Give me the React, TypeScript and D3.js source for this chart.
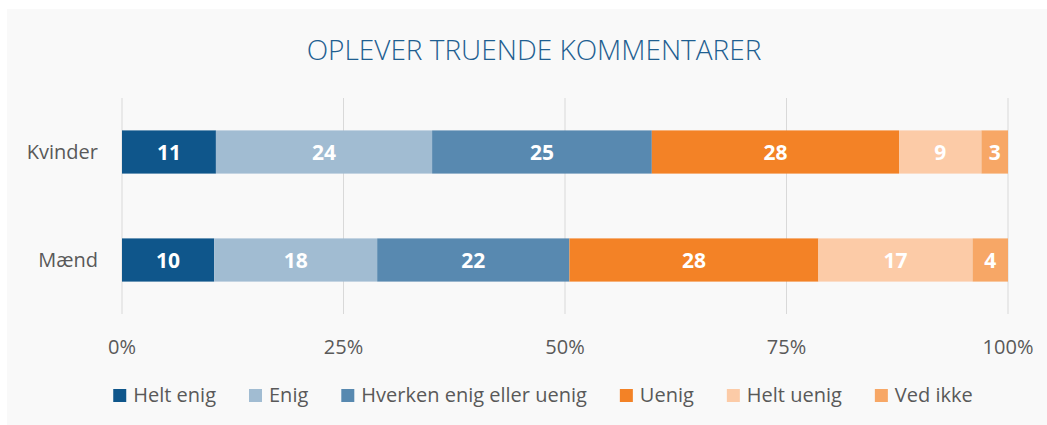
import React, { useEffect, useRef } from 'react';
import * as d3 from 'd3';

// data (shares in %, labels are the rounded figures)
const categories = ['Kvinder', 'Mænd'];
const seriesNames = ['Helt enig', 'Enig', 'Hverken enig eller uenig', 'Uenig', 'Helt uenig', 'Ved ikke'];
const kvinder = [10.6, 24.4, 24.8, 27.9, 9.3, 3.0];
const maend = [10.4, 18.4, 21.7, 28.1, 17.4, 4.0];
const colors = ['#0f568b', '#a1bcd2', '#5889b0', '#f38226', '#fccba7', '#f7a766'];
const ticks = [0, 25, 50, 75, 100];

const W = 1047;
const H = 425;

const App: React.FC = () => {
  const ref = useRef<SVGSVGElement | null>(null);

  useEffect(() => {
    if (!ref.current) return;
    const svg = d3.select(ref.current);
    svg.selectAll('*').remove();

    const margin = { top: 98, right: 39, bottom: 111, left: 122 };
    const font = "'Open Sans', sans-serif";

    // background panel
    svg.append('rect')
      .attr('x', 7).attr('y', 9)
      .attr('width', W - 7).attr('height', H - 9)
      .attr('fill', '#f9f9f9');

    // title
    svg.append('text')
      .attr('x', 534).attr('y', 60)
      .attr('text-anchor', 'middle')
      .attr('font-family', font)
      .attr('font-weight', 300)
      .attr('font-size', 28)
      .attr('fill', '#1f5f91')
      .text('OPLEVER TRUENDE KOMMENTARER');

    const x = d3.scaleLinear().domain([0, 100]).range([margin.left, W - margin.right]);
    const y = d3.scaleBand().domain(categories).range([margin.top, H - margin.bottom]).paddingInner(0.6).paddingOuter(0.3);

    // gridlines
    svg.append('g')
      .selectAll('line')
      .data(ticks)
      .enter()
      .append('line')
      .attr('x1', (d) => x(d)).attr('x2', (d) => x(d))
      .attr('y1', margin.top).attr('y2', H - margin.bottom)
      .attr('stroke', '#d9d9d9')
      .attr('stroke-width', 1);

    // x tick labels
    svg.append('g')
      .selectAll('text')
      .data(ticks)
      .enter()
      .append('text')
      .attr('x', (d) => x(d))
      .attr('y', 354)
      .attr('text-anchor', 'middle')
      .attr('font-family', font)
      .attr('font-size', 20)
      .attr('fill', '#595959')
      .text((d) => `${d}%`);

    // category labels
    svg.append('g')
      .selectAll('text')
      .data(categories)
      .enter()
      .append('text')
      .attr('x', margin.left - 24)
      .attr('y', (d) => y(d)! + y.bandwidth() / 2)
      .attr('dy', '0.35em')
      .attr('text-anchor', 'end')
      .attr('font-family', font)
      .attr('font-size', 20)
      .attr('fill', '#595959')
      .text((d) => d);

    // stacked bars (normalised to 100%)
    const rows = [kvinder, maend].map((vals, i) => {
      const total = d3.sum(vals);
      const row: any = { cat: categories[i] };
      seriesNames.forEach((s, j) => { row[s] = (vals[j] / total) * 100; row[s + '_v'] = vals[j]; });
      return row;
    });
    const stack = d3.stack<any>().keys(seriesNames)(rows);

    const layers = svg.append('g')
      .selectAll('g')
      .data(stack)
      .enter()
      .append('g')
      .attr('fill', (_, i) => colors[i]);

    layers.selectAll('rect')
      .data((d) => d.map((p) => ({ p, key: d.key })))
      .enter()
      .append('rect')
      .attr('x', (d) => x(d.p[0]))
      .attr('y', (d) => y(d.p.data.cat)!)
      .attr('width', (d) => x(d.p[1]) - x(d.p[0]))
      .attr('height', y.bandwidth());

    layers.selectAll('text')
      .data((d) => d.map((p) => ({ p, key: d.key })))
      .enter()
      .append('text')
      .attr('x', (d) => (x(d.p[0]) + x(d.p[1])) / 2)
      .attr('y', (d) => y(d.p.data.cat)! + y.bandwidth() / 2)
      .attr('dy', '0.36em')
      .attr('text-anchor', 'middle')
      .attr('font-family', font)
      .attr('font-weight', 700)
      .attr('font-size', 21)
      .attr('fill', '#ffffff')
      .text((d) => Math.round(d.p.data[d.key + '_v']));

    // legend
    const legend = svg.append('g');
    const items = legend.selectAll('g')
      .data(seriesNames)
      .enter()
      .append('g');
    items.append('rect')
      .attr('width', 13).attr('height', 13)
      .attr('y', -13)
      .attr('fill', (_, i) => colors[i]);
    items.append('text')
      .attr('x', 20)
      .attr('y', 0)
      .attr('font-family', font)
      .attr('font-size', 20)
      .attr('fill', '#595959')
      .text((d) => d);

    const gap = 33;
    let cx = 0;
    items.each(function () {
      const g = d3.select(this);
      const w = 20 + (g.select('text').node() as SVGTextElement).getComputedTextLength();
      g.attr('transform', `translate(${cx},0)`);
      cx += w + gap;
    });
    const total = cx - gap;
    legend.attr('transform', `translate(${543 - total / 2},${402})`);
  }, []);

  return <svg ref={ref} width={W} height={H} style={{ display: 'block', position: 'absolute', left: 0, top: 0 }} />;
};

export default App;
